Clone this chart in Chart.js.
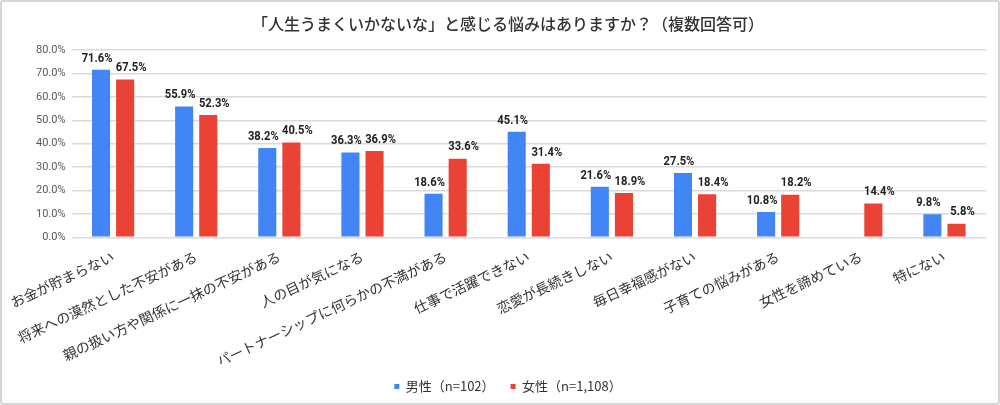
<!DOCTYPE html>
<html lang="ja">
<head>
<meta charset="utf-8">
<script src="https://cdn.jsdelivr.net/npm/chart.js@4/dist/chart.umd.min.js"></script>
<style>
    html, body { margin: 0; padding: 0; background: #fff; }
    #wrap {
        position: absolute; left: 0; top: 0;
        width: 1000px; height: 405px;
        box-sizing: border-box;
        border: 2px solid #d6d6d6;
        border-radius: 3px;
    }
    #chart { display: block; }
</style>
</head>
<body>
<div id="wrap"><canvas id="chart" width="996" height="401"></canvas></div>
<script>
/* Values */
const CATEGORIES = [
    "お金が貯まらない",
    "将来への漠然とした不安がある",
    "親の扱い方や関係に一抹の不安がある",
    "人の目が気になる",
    "パートナーシップに何らかの不満がある",
    "仕事で活躍できない",
    "恋愛が長続きしない",
    "毎日幸福感がない",
    "子育ての悩みがある",
    "女性を諦めている",
    "特にない",
];
const MALE = [71.6, 55.9, 38.2, 36.3, 18.6, 45.1, 21.6, 27.5, 10.8, null, 9.8];
const FEMALE = [67.5, 52.3, 40.5, 36.9, 33.6, 31.4, 18.9, 18.4, 18.2, 14.4, 5.8];
const SERIES_NAMES = ["男性（n=102）", "女性（n=1,108）"];
const Y_TICKS = [0, 10, 20, 30, 40, 50, 60, 70, 80];

const COLORS = {
    male: "#4285f4",
    female: "#ea4335",
    grid: "#d9d9d9",
    tick: "#595959",
    text: "#222",
};
const JP_FONT = "'Noto Sans CJK JP', 'Noto Sans', sans-serif";
const NUM_FONT = "Roboto, 'Noto Sans', sans-serif";

/* Value labels above each bar, squeezed a little to look condensed */
const valueLabels = {
    id: "valueLabels",
    afterDatasetsDraw(chart) {
        const ctx = chart.ctx;
        const squeeze = 0.86;
        ctx.save();
        ctx.font = "bold 13px " + NUM_FONT;
        ctx.fillStyle = COLORS.text;
        ctx.textAlign = "center";
        ctx.textBaseline = "bottom";
        ctx.scale(squeeze, 1);
        chart.data.datasets.forEach((ds, di) => {
            const meta = chart.getDatasetMeta(di);
            const shift = di === 0 ? -4 : 6;
            meta.data.forEach((bar, i) => {
                const v = ds.data[i];
                if (v === null || v === undefined) return;
                ctx.fillText(v.toFixed(1) + "%", (bar.x + shift) / squeeze, bar.y - 5);
            });
        });
        ctx.restore();
    },
};

new Chart(document.getElementById("chart"), {
    type: "bar",
    data: {
        labels: CATEGORIES,
        datasets: [
            { label: SERIES_NAMES[0], data: MALE, backgroundColor: COLORS.male },
            { label: SERIES_NAMES[1], data: FEMALE, backgroundColor: COLORS.female },
        ],
    },
    plugins: [valueLabels],
    options: {
        responsive: false,
        animation: false,
        categoryPercentage: 0.58,
        barPercentage: 0.75,
        layout: { padding: { left: 28, right: 12, top: 4, bottom: 0 } },
        plugins: {
            title: {
                display: true,
                text: "「人生うまくいかないな」と感じる悩みはありますか？（複数回答可）",
                color: "#333",
                font: { family: JP_FONT, size: 16, weight: "500" },
                padding: { top: 8, bottom: 17 },
            },
            legend: {
                position: "bottom",
                labels: {
                    color: "#333",
                    font: { family: JP_FONT, size: 13 },
                    boxWidth: 5,
                    boxHeight: 5,
                    padding: 16,
                },
            },
            tooltip: { enabled: false },
        },
        scales: {
            x: {
                grid: { display: false },
                border: { display: false },
                afterFit: (scale) => { scale.height -= 9; },
                ticks: {
                    color: "#333",
                    font: { family: JP_FONT, size: 14 },
                    minRotation: 25,
                    maxRotation: 25,
                    autoSkip: false,
                },
            },
            y: {
                min: 0,
                max: 80,
                afterBuildTicks: (axis) => {
                    axis.ticks = Y_TICKS.map(v => ({ value: v }));
                },
                grid: { color: COLORS.grid, lineWidth: 1.5, drawTicks: false },
                border: { display: false },
                ticks: {
                    color: COLORS.tick,
                    font: { family: NUM_FONT, size: 11 },
                    padding: 6,
                    callback: (v) => v.toFixed(1) + "%",
                },
            },
        },
    },
});
</script>
</body>
</html>
